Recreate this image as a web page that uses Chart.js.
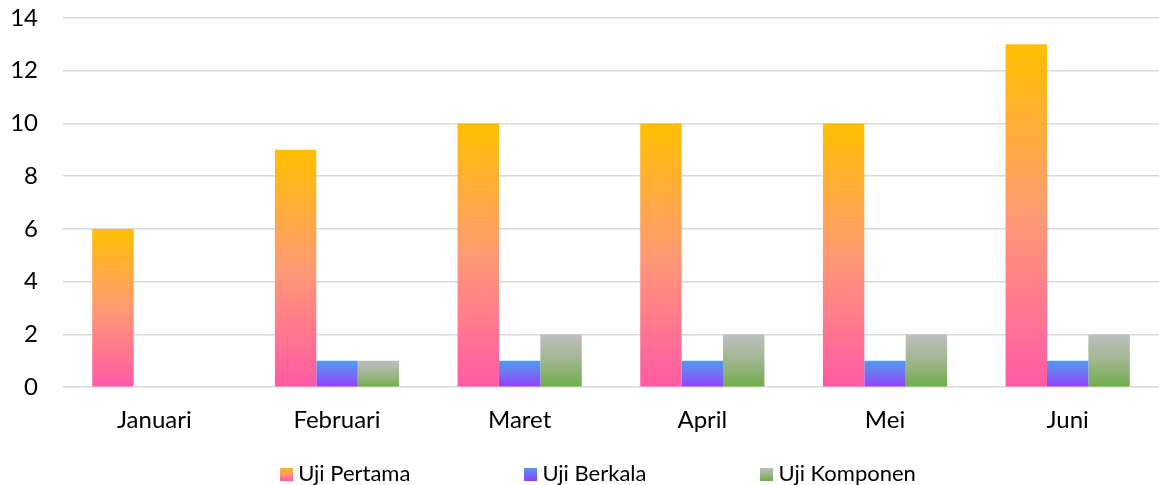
<!DOCTYPE html>
<html>
<head>
<meta charset="utf-8">
<script src="https://cdn.jsdelivr.net/npm/chart.js@4"></script>
<style>
  html, body { margin: 0; padding: 0; background: #fff; }
  #wrap { width: 1159px; height: 485px; }
</style>
</head>
<body>
<div id="wrap"><canvas id="grafica"></canvas></div>
<script>
const bulan = ["Januari", "Februari", "Maret", "April", "Mei", "Juni"];
const ujiPertama = [6, 9, 10, 10, 10, 13];
const ujiBerkala = [0, 1, 1, 1, 1, 1];
const ujiKomponen = [0, 1, 2, 2, 2, 2];
const namaSeri = ["Uji Pertama", "Uji Berkala", "Uji Komponen"];

// warna atas / tengah / bawah tiap seri
const warna = [
    ["#ffc000", "#ff9a74", "#ff5aa6"],
    ["#4f9cf0", "#7270f4", "#9440f8"],
    ["#bfbfbf", "#9fb68e", "#70ad47"]
];

const huruf = "Lato, 'Noto Sans', sans-serif";

function isiGradien(g, i) {
    g.addColorStop(0, warna[i][0]);
    g.addColorStop(0.5, warna[i][1]);
    g.addColorStop(1, warna[i][2]);
    return g;
}

function gradienBatang(i) {
    return function (c) {
        const chart = c.chart;
        if (!chart.chartArea || c.type !== "data") return warna[i][0];
        const y = chart.scales.y;
        const atas = y.getPixelForValue(c.raw);
        const bawah = y.getPixelForValue(0);
        if (Math.abs(bawah - atas) < 1) return warna[i][0];
        return isiGradien(chart.ctx.createLinearGradient(0, atas, 0, bawah), i);
    };
}

function kotakLegenda(i) {
    const cv = document.createElement("canvas");
    cv.width = 13;
    cv.height = 13;
    const k = cv.getContext("2d");
    k.fillStyle = isiGradien(k.createLinearGradient(0, 0, 0, 13), i);
    k.fillRect(0, 0, 13, 13);
    return cv;
}

const ikon = [kotakLegenda(0), kotakLegenda(1), kotakLegenda(2)];

// legenda dengan jarak antar item lebar tapi tinggi kotak tetap rendah
const legendaRapat = {
    id: "legendaRapat",
    beforeLayout(chart) {
        const lg = chart.legend;
        if (!lg || lg._rapat) return;
        lg._rapat = true;
        const fitAsli = lg.fit;
        lg.fit = function () {
            fitAsli.call(this);
            this.height = 39;
        };
        const drawAsli = lg.draw;
        lg.draw = function (area) {
            const geser = this.options.labels.padding - 17;
            const dx = 21;
            this.top -= geser;
            this.left += dx;
            this.right += dx;
            drawAsli.call(this, area);
            this.top += geser;
            this.left -= dx;
            this.right -= dx;
        };
    }
};

const ctx = document.getElementById("grafica").getContext("2d");
new Chart(ctx, {
    type: "bar",
    data: {
        labels: bulan,
        datasets: [
            { label: namaSeri[0], data: ujiPertama, backgroundColor: gradienBatang(0) },
            { label: namaSeri[1], data: ujiBerkala, backgroundColor: gradienBatang(1) },
            { label: namaSeri[2], data: ujiKomponen, backgroundColor: gradienBatang(2) }
        ]
    },
    plugins: [legendaRapat],
    options: {
        responsive: true,
        maintainAspectRatio: false,
        animation: false,
        datasets: {
            bar: { categoryPercentage: 0.68, barPercentage: 1.0, borderWidth: 0 }
        },
        layout: { padding: { top: 18, right: 0, bottom: 0, left: 0 } },
        scales: {
            x: {
                grid: { display: false },
                border: { display: false },
                ticks: { color: "#000", font: { family: huruf, size: 24 }, padding: 11 }
            },
            y: {
                min: 0,
                max: 14,
                afterFit: function (s) { s.width = 63; },
                ticks: { stepSize: 2, color: "#000", font: { family: huruf, size: 24 }, padding: 0 },
                grid: { color: "#d9d9d9", lineWidth: 1.5, drawTicks: true, tickLength: 25, tickColor: "rgba(0,0,0,0)" },
                border: { display: false }
            }
        },
        plugins: {
            tooltip: { enabled: false },
            legend: {
                position: "bottom",
                labels: {
                    color: "#000",
                    font: { family: huruf, size: 22 },
                    usePointStyle: true,
                    boxWidth: 2,
                    boxHeight: 13,
                    padding: 119,
                    generateLabels: function () {
                        return namaSeri.map((n, i) => ({
                            text: n,
                            pointStyle: ikon[i],
                            fillStyle: warna[i][0],
                            strokeStyle: "transparent",
                            lineWidth: 0,
                            hidden: false,
                            datasetIndex: i
                        }));
                    }
                }
            }
        }
    }
});
</script>
</body>
</html>
